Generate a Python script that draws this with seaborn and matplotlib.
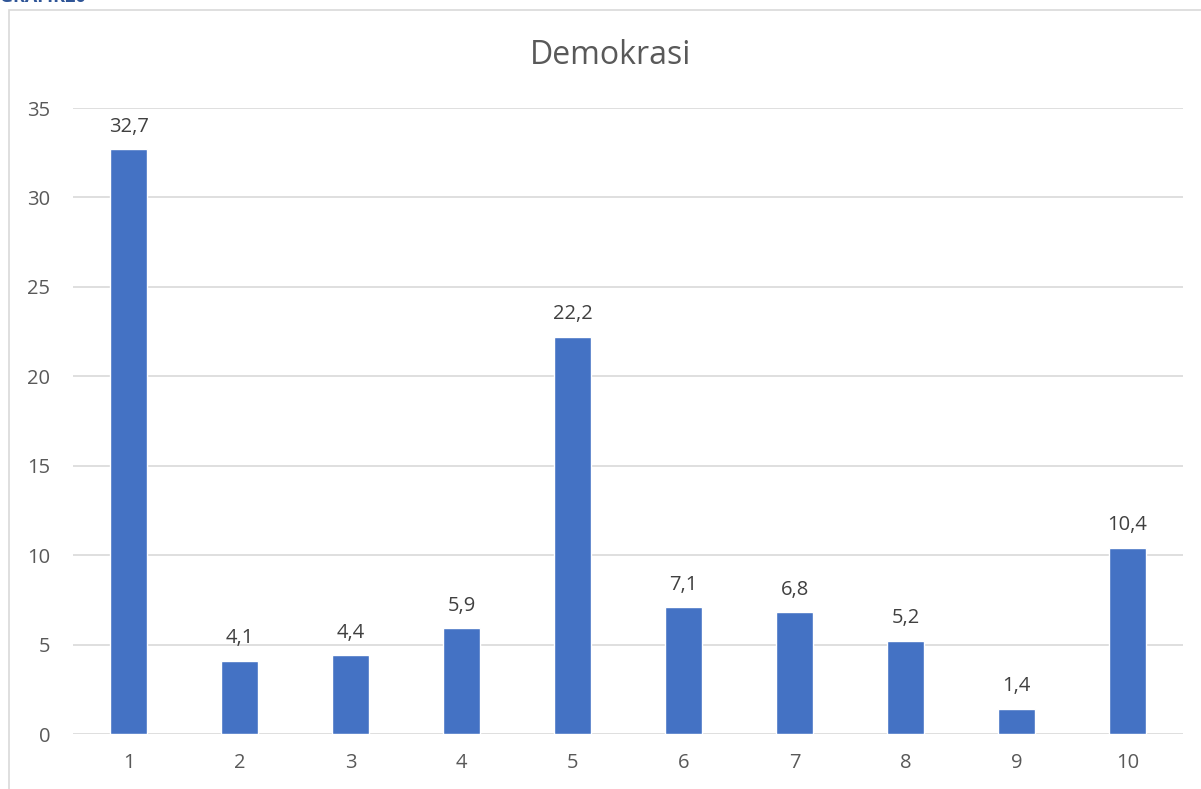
import matplotlib
matplotlib.use("Agg")
import matplotlib.pyplot as plt
import seaborn as sns
import pandas as pd
from matplotlib.patches import Rectangle

categories = ["1", "2", "3", "4", "5", "6", "7", "8", "9", "10"]
values = [32.7, 4.1, 4.4, 5.9, 22.2, 7.1, 6.8, 5.2, 1.4, 10.4]
value_labels = ["32,7", "4,1", "4,4", "5,9", "22,2", "7,1", "6,8", "5,2", "1,4", "10,4"]
yticks = [0, 5, 10, 15, 20, 25, 30, 35]
title = "Demokrasi"
header = "GRAFIK20"

sns.set_theme(style="white")
plt.rcParams['font.family'] = ['Open Sans', 'DejaVu Sans']

W, H = 1201, 789
fig = plt.figure(figsize=(W / 100, H / 100), dpi=100)

# chart frame
fig.patches.append(Rectangle((9 / W, -0.05), 1.2, 1 - 10 / H + 0.05, transform=fig.transFigure,
                             fill=False, edgecolor="#D9D9D9", linewidth=1.2, zorder=0))
fig.text(0 / W, 1 + 3 / H, header, color="#2F5597", fontsize=13, fontweight="bold",
         ha="left", va="center")

ax = fig.add_axes([73 / W, 1 - 734 / H, (1183 - 73) / W, (734 - 108) / H])
df = pd.DataFrame({"cat": categories, "val": values})
sns.barplot(data=df, x="cat", y="val", color="#4472C4", width=0.33, saturation=1, ax=ax, zorder=3)

ax.set_xlim(-0.5, len(categories) - 0.5)
ax.set_ylim(0, 35)
ax.set_yticks(yticks)
ax.set_yticklabels([str(t) for t in yticks])
ax.set_xlabel("")
ax.set_ylabel("")
for y in yticks:
    ax.axhline(y, color="#D9D9D9", linewidth=1.2, zorder=1)
for s in ax.spines.values():
    s.set_visible(False)
ax.tick_params(axis="both", length=0, labelsize=14.5, labelcolor="#595959")
ax.tick_params(axis="y", pad=16.5)
ax.tick_params(axis="x", pad=14)

for i, (v, lab) in enumerate(zip(values, value_labels)):
    ax.annotate(lab, (i, v), xytext=(0, 9), textcoords="offset points", ha="center", va="bottom",
                fontsize=14.5, color="#404040")

fig.text(611 / W, 1 - 56 / H, title, ha="center", va="center", fontsize=23, color="#595959")

fig.savefig("out.png", dpi=100)
